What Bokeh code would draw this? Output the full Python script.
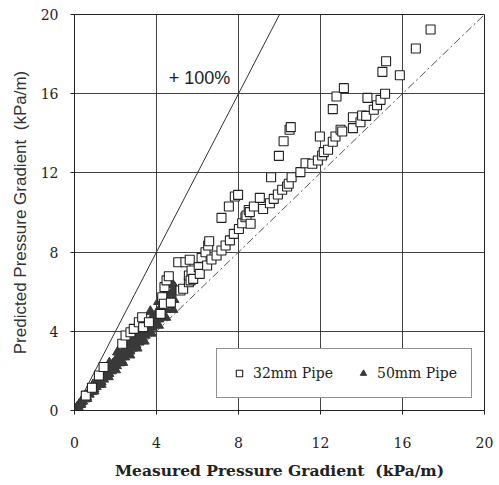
from bokeh.plotting import figure
from bokeh.models import Range1d, FixedTicker, Label, Legend, LegendItem
from bokeh.embed import file_html
from bokeh.resources import INLINE

# 32mm pipe (squares)
sq_x = [0.55, 0.85, 1.19, 1.42, 2.33, 2.49, 2.73, 2.89, 3.14, 3.30, 3.35, 3.63, 4.20, 4.28, 4.36,
        4.39, 4.49, 4.60, 4.70, 5.06, 5.17, 5.30, 5.41, 5.58, 5.58, 5.62, 5.66, 5.71, 5.79, 6.06,
        6.11, 6.20, 6.39, 6.47, 6.52, 6.57, 6.68, 6.93, 7.17, 7.17, 7.37, 7.53, 7.58, 7.77, 7.82,
        7.98, 8.02, 8.18, 8.34, 8.39, 8.50, 8.55, 8.59, 8.75, 9.04, 9.20, 9.53, 9.59, 9.72, 9.92,
        9.97, 10.13, 10.20, 10.37, 10.45, 10.49, 10.55, 10.59, 11.02, 11.27, 11.60, 11.87, 11.97, 12.08, 12.16,
        12.37, 12.60, 12.60, 12.73, 12.78, 12.98, 13.06, 13.14, 13.58, 13.58, 13.95, 14.03, 14.23, 14.29, 14.60,
        14.76, 14.93, 15.02, 15.15, 15.20, 15.87, 16.65, 17.37]
sq_y = [0.75, 1.15, 1.77, 2.20, 3.37, 3.79, 3.95, 4.12, 4.46, 4.71, 4.21, 4.46, 4.88, 5.72, 5.39,
        6.23, 6.57, 6.78, 5.45, 7.49, 6.06, 6.15, 7.49, 6.48, 6.82, 7.61, 6.57, 7.07, 6.65, 7.24,
        6.90, 7.71, 7.99, 7.32, 8.33, 8.55, 7.63, 7.83, 8.08, 9.73, 8.33, 10.30, 8.59, 8.92, 10.81,
        10.89, 9.17, 9.46, 9.76, 9.85, 10.13, 10.02, 9.43, 10.30, 10.74, 10.18, 10.47, 11.78, 10.69, 10.91,
        12.86, 11.15, 13.60, 11.31, 11.45, 14.18, 14.31, 11.78, 12.04, 12.49, 12.46, 12.63, 13.84, 12.88, 13.05,
        13.17, 13.57, 15.22, 13.84, 15.86, 14.18, 14.09, 16.28, 14.26, 14.81, 14.56, 14.90, 14.88, 15.79, 15.19,
        15.42, 15.69, 17.10, 16.00, 17.64, 16.93, 18.28, 19.24]

# 50mm pipe (triangles)
tr_x = [0.05, 0.12, 0.18, 0.22, 0.30, 0.33, 0.40, 0.45, 0.50, 0.56, 0.60, 0.66, 0.72, 0.78, 0.84,
        0.90, 0.95, 1.00, 1.06, 1.12, 1.18, 1.22, 1.30, 1.35, 1.42, 1.48, 1.55, 1.60, 1.68, 1.74,
        1.80, 1.86, 1.92, 1.98, 2.05, 2.10, 2.18, 2.24, 2.30, 2.38, 2.45, 2.50, 2.58, 2.64, 2.70,
        2.78, 2.85, 2.92, 3.00, 3.08, 3.15, 3.22, 3.30, 3.38, 3.45, 3.52, 3.60, 3.70, 3.78, 3.85,
        3.95, 4.02, 4.12, 4.20, 4.30, 4.38, 4.48, 4.55, 4.65, 4.72, 4.85, 4.90, 4.98,
        0.30, 0.60, 0.95, 1.30, 1.65, 2.00, 2.35, 2.70, 3.05, 3.40, 3.75, 4.10, 4.45, 4.80,
        0.50, 0.90, 1.30, 1.70, 2.10, 2.50, 2.90, 3.30, 3.70, 4.10, 4.50, 4.80]
tr_y = [0.06, 0.16, 0.20, 0.30, 0.36, 0.45, 0.47, 0.60, 0.58, 0.72, 0.68, 0.85, 0.82, 1.00, 0.95,
        1.15, 1.08, 1.30, 1.20, 1.42, 1.32, 1.60, 1.45, 1.70, 1.58, 1.85, 1.72, 2.00, 1.86, 2.15,
        2.00, 2.35, 2.12, 2.50, 2.26, 2.62, 2.40, 2.80, 2.52, 2.98, 2.70, 3.12, 2.85, 3.30, 3.00,
        3.45, 3.15, 3.60, 3.30, 3.80, 3.45, 3.98, 3.62, 4.15, 3.80, 4.35, 3.98, 4.55, 4.20, 4.75,
        4.40, 4.95, 4.62, 5.18, 4.85, 5.42, 5.10, 5.65, 5.35, 5.90, 5.60, 6.20, 6.00,
        0.30, 0.60, 0.98, 1.32, 1.70, 2.05, 2.42, 2.80, 3.15, 3.50, 3.90, 4.30, 4.70, 5.10,
        0.72, 1.30, 1.85, 2.40, 2.95, 3.50, 4.00, 4.50, 5.00, 5.50, 6.00, 6.35]

ticks = [0, 4, 8, 12, 16, 20]
line100_x = [0, 10]
line100_y = [0, 20]
ideal_x = [0, 20]
ideal_y = [0, 20]

SERIF = "DejaVu Serif"

p = figure(width=499, height=485, x_range=Range1d(0, 20), y_range=Range1d(0, 20),
           output_backend="svg", toolbar_location=None,
           min_border_left=74, min_border_right=15, min_border_top=14, min_border_bottom=75)
p.background_fill_color = "white"
p.border_fill_color = "white"
p.outline_line_color = "#222222"
p.outline_line_width = 1

for ax in (p.xaxis, p.yaxis):
    ax.ticker = FixedTicker(ticks=ticks)
    ax.axis_line_color = "#222222"
    ax.major_tick_line_color = "#222222"
    ax.major_tick_in = 0
    ax.major_tick_out = 4
    ax.minor_tick_line_color = None
    ax.major_label_text_font = SERIF
    ax.major_label_text_font_size = "14px"
    ax.major_label_text_color = "#222222"

p.xaxis.major_label_standoff = 22
p.yaxis.major_label_standoff = 12
p.xaxis.axis_label = "Measured Pressure Gradient\u00a0 (kPa/m)"
p.xaxis.axis_label_text_font = SERIF
p.xaxis.axis_label_text_font_style = "bold"
p.xaxis.axis_label_text_font_size = "15.5px"
p.xaxis.axis_label_text_color = "#222222"
p.xaxis.axis_label_standoff = 10
p.yaxis.axis_label = "Predicted Pressure Gradient\u00a0 (kPa/m)"
p.yaxis.axis_label_text_font = "Liberation Sans"
p.yaxis.axis_label_text_font_style = "normal"
p.yaxis.axis_label_text_font_size = "17px"
p.yaxis.axis_label_text_color = "#333333"
p.yaxis.axis_label_standoff = 8

for g in (p.xgrid, p.ygrid):
    g.ticker = FixedTicker(ticks=[4, 8, 12, 16])
    g.grid_line_color = "#222222"
    g.grid_line_alpha = 0.85
    g.grid_line_width = 1

p.line(line100_x, line100_y, line_color="#333333", line_width=1)
p.line(ideal_x, ideal_y, line_color="#555555", line_width=1, line_dash="8 3 2 3")

tri = p.scatter(tr_x, tr_y, marker="triangle", size=10, fill_color="#3a3a3a",
                line_color="#3a3a3a", line_width=1)
sq = p.scatter(sq_x, sq_y, marker="square", size=9, fill_color="white",
               line_color="#222222", line_width=1.1)

p.add_layout(Label(x=4.6, y=16.3, text="+ 100%", text_font="Liberation Sans",
                   text_font_size="18px", text_color="#222222"))

legend = Legend(items=[LegendItem(label="32mm Pipe", renderers=[sq]),
                       LegendItem(label="50mm Pipe", renderers=[tri])],
                orientation="horizontal", location=(142, 12))
legend.label_text_font = SERIF
legend.label_text_font_size = "14px"
legend.label_text_color = "#222222"
legend.border_line_color = "#222222"
legend.border_line_width = 1
legend.background_fill_color = "white"
legend.background_fill_alpha = 1
legend.padding = 14
legend.spacing = 22
legend.glyph_width = 16
legend.glyph_height = 20
legend.label_standoff = 6
legend.label_height = 20
legend.margin = 0
p.add_layout(legend)

open("out.html", "w").write(file_html(p, INLINE))
